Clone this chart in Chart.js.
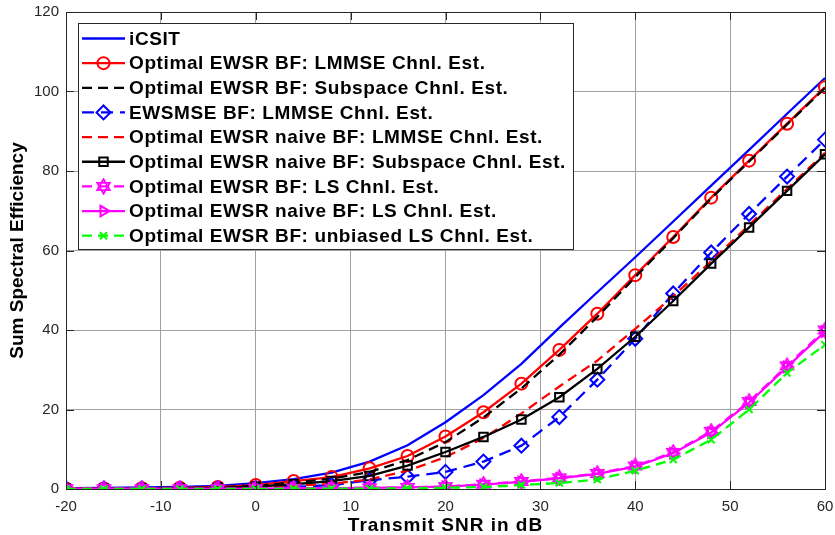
<!DOCTYPE html>
<html>
<head>
<meta charset="utf-8">
<script src="https://cdn.jsdelivr.net/npm/chart.js@4.4.0/dist/chart.umd.min.js"></script>
<style>
  html, body { margin: 0; padding: 0; background: #fff; }
</style>
</head>
<body>
<canvas id="chart" width="835" height="535"></canvas>
<script>
// x axis: transmit SNR (dB)
const snrDb = [-20, -16, -12, -8, -4, 0, 4, 8, 12, 16, 20, 24, 28, 32, 36, 40, 44, 48, 52, 56, 60];

// sum spectral efficiency per curve
const iCsit         = [0.2, 0.3, 0.4, 0.5, 0.8, 1.5, 2.5, 4.1, 6.9, 11.0, 16.8, 23.6, 31.5, 40.6, 49.5, 58.3, 67.3, 76.3, 85.3, 94.4, 103.4];
const optLmmse      = [0.1, 0.1, 0.2, 0.3, 0.5, 1.0, 2.0, 3.0, 5.2, 8.3, 13.2, 19.3, 26.5, 35.0, 44.1, 53.8, 63.4, 73.3, 82.6, 91.9, 101.1];
const optSubspace   = [0.1, 0.1, 0.2, 0.3, 0.4, 0.8, 1.6, 2.6, 4.3, 7.3, 11.8, 18.0, 25.3, 33.8, 43.3, 53.3, 63.1, 73.1, 82.4, 91.7, 100.9];
const ewsmseLmmse   = [0.1, 0.1, 0.1, 0.1, 0.2, 0.3, 0.5, 1.0, 2.2, 3.1, 4.3, 6.9, 10.9, 18.1, 27.5, 37.8, 49.2, 59.5, 69.2, 78.6, 87.9];
const naiveLmmse    = [0.1, 0.1, 0.1, 0.2, 0.3, 0.5, 0.8, 1.3, 2.4, 4.6, 8.0, 12.8, 19.0, 25.8, 32.3, 40.3, 48.5, 57.3, 66.4, 75.5, 84.6];
const naiveSubspace = [0.1, 0.1, 0.1, 0.2, 0.3, 0.6, 1.2, 2.0, 3.3, 5.9, 9.3, 13.1, 17.5, 23.1, 30.2, 38.3, 47.3, 56.7, 65.8, 75.0, 84.2];
const optLs         = [0.1, 0.1, 0.1, 0.1, 0.1, 0.1, 0.2, 0.2, 0.3, 0.4, 0.6, 1.2, 1.9, 2.8, 3.9, 5.8, 9.2, 14.5, 22.0, 31.0, 40.0];
const naiveLs       = [0.1, 0.1, 0.1, 0.1, 0.1, 0.1, 0.2, 0.2, 0.3, 0.4, 0.6, 1.1, 1.8, 2.7, 3.8, 5.6, 9.0, 14.2, 21.7, 30.7, 39.6];
const unbiasedLs    = [0.0, 0.0, 0.0, 0.0, 0.0, 0.0, 0.1, 0.1, 0.1, 0.2, 0.3, 0.5, 1.0, 1.5, 2.4, 4.6, 7.4, 12.4, 20.0, 29.2, 36.3];

const seriesLabels = [
  "iCSIT",
  "Optimal EWSR BF: LMMSE Chnl. Est.",
  "Optimal EWSR BF: Subspace Chnl. Est.",
  "EWSMSE BF: LMMSE Chnl. Est.",
  "Optimal EWSR naive BF: LMMSE Chnl. Est.",
  "Optimal EWSR naive BF: Subspace Chnl. Est.",
  "Optimal EWSR BF: LS Chnl. Est.",
  "Optimal EWSR naive BF: LS Chnl. Est.",
  "Optimal EWSR BF: unbiased LS Chnl. Est."
];
const xTitle = "Transmit SNR in dB";
const yTitle = "Sum Spectral Efficiency";

const FONT = "'Liberation Sans', Arial, Helvetica, sans-serif";
const AXIS_COLOR = "#262626";

// six pointed star marker (matlab 'hexagram')
function makeHexagram(color, size) {
  const c = document.createElement("canvas");
  c.width = size; c.height = size;
  const g = c.getContext("2d");
  const cx = size / 2, cy = size / 2, r = size / 2 - 1.2;
  g.strokeStyle = color;
  g.lineWidth = 1.8;
  for (let k = 0; k < 2; k++) {
    g.beginPath();
    for (let i = 0; i < 3; i++) {
      const a = -Math.PI / 2 + k * Math.PI + i * 2 * Math.PI / 3;
      const px = cx + r * Math.cos(a), py = cy + r * Math.sin(a);
      if (i) g.lineTo(px, py); else g.moveTo(px, py);
    }
    g.closePath();
    g.stroke();
  }
  return c;
}
const hexagram = makeHexagram("#ff00ff", 17);

const toPoints = (vals) => snrDb.map((x, i) => ({ x: x, y: vals[i] }));

const makeSet = (idx, vals, color, dash, style, radius, rotation) => ({
  label: seriesLabels[idx],
  data: toPoints(vals),
  borderColor: color,
  backgroundColor: "rgba(0,0,0,0)",
  borderWidth: 2.3,
  borderDash: dash,
  pointStyle: style,
  pointRadius: radius,
  pointRotation: rotation || 0,
  pointBorderColor: color,
  pointBackgroundColor: "rgba(0,0,0,0)",
  pointBorderWidth: 2,
  tension: 0,
  order: 20 - idx
});

const datasets = [
  makeSet(0, iCsit, "#0000ff", [], false, 0),
  makeSet(1, optLmmse, "#ff0000", [], "circle", 6),
  makeSet(2, optSubspace, "#000000", [10, 6], false, 0),
  makeSet(3, ewsmseLmmse, "#0000ff", [12, 7], "rectRot", 7),
  makeSet(4, naiveLmmse, "#ff0000", [10, 6], false, 0),
  makeSet(5, naiveSubspace, "#000000", [], "rect", 6),
  makeSet(6, optLs, "#ff00ff", [10, 6], hexagram, 8),
  makeSet(7, naiveLs, "#ff00ff", [], "triangle", 6, 90),
  makeSet(8, unbiasedLs, "#00ff00", [10, 6], "crossRot", 5)
];

// full box + inward ticks + axis titles, like matlab axes
const axesBox = {
  id: "axesBox",
  afterDatasetsDraw(chart) {
    const { ctx, chartArea: a, scales } = chart;
    ctx.save();
    ctx.strokeStyle = AXIS_COLOR;
    ctx.lineWidth = 1;
    ctx.beginPath();
    scales.x.ticks.forEach(t => {
      const px = Math.round(scales.x.getPixelForValue(t.value)) + 0.5;
      ctx.moveTo(px, a.bottom); ctx.lineTo(px, a.bottom - 8);
      ctx.moveTo(px, a.top); ctx.lineTo(px, a.top + 8);
    });
    scales.y.ticks.forEach(t => {
      const py = Math.round(scales.y.getPixelForValue(t.value)) + 0.5;
      ctx.moveTo(a.left, py); ctx.lineTo(a.left + 8, py);
      ctx.moveTo(a.right, py); ctx.lineTo(a.right - 8, py);
    });
    ctx.stroke();
    ctx.strokeRect(Math.round(a.left) + 0.5, Math.round(a.top) + 0.5,
      Math.round(a.right - a.left), Math.round(a.bottom - a.top));

    ctx.fillStyle = "#000000";
    ctx.font = "bold 19px " + FONT;
    ctx.textAlign = "center";
    ctx.textBaseline = "middle";
    ctx.letterSpacing = "1px";
    ctx.fillText(xTitle, (a.left + a.right) / 2, 526);
    ctx.letterSpacing = "0px";
    ctx.translate(18, (a.top + a.bottom) / 2);
    ctx.rotate(-Math.PI / 2);
    ctx.fillText(yTitle, 0, 0);
    ctx.restore();
  }
};

// legend box drawn inside the plot, top left
const boxLegend = {
  id: "boxLegend",
  afterDraw(chart) {
    const ctx = chart.ctx;
    const bx = 78, by = 23, bw = 495, bh = 226;
    const rowY = 38.5, rowH = 24.65;
    ctx.save();
    ctx.fillStyle = "#ffffff";
    ctx.fillRect(bx, by, bw, bh);
    ctx.strokeStyle = AXIS_COLOR;
    ctx.lineWidth = 1;
    ctx.strokeRect(bx + 0.5, by + 0.5, bw, bh);
    chart.data.datasets.forEach((ds, i) => {
      const y = rowY + i * rowH;
      ctx.save();
      ctx.strokeStyle = ds.borderColor;
      ctx.lineWidth = 2.3;
      ctx.setLineDash(ds.borderDash);
      ctx.beginPath();
      ctx.moveTo(82, y);
      ctx.lineTo(125, y);
      ctx.stroke();
      ctx.setLineDash([]);
      if (ds.pointRadius > 0) {
        ctx.fillStyle = "rgba(0,0,0,0)";
        ctx.lineWidth = ds.pointBorderWidth;
        Chart.helpers.drawPoint(ctx, {
          pointStyle: ds.pointStyle,
          rotation: ds.pointRotation,
          radius: ds.pointRadius,
          borderWidth: ds.pointBorderWidth
        }, 103.5, y);
      }
      ctx.restore();
      ctx.fillStyle = "#000000";
      ctx.font = "bold 19px " + FONT;
      ctx.letterSpacing = "0.6px";
      ctx.textBaseline = "middle";
      ctx.fillText(ds.label, 129, y + 1);
    });
    ctx.restore();
  }
};

new Chart(document.getElementById("chart"), {
  type: "line",
  data: { datasets: datasets },
  options: {
    responsive: false,
    animation: false,
    layout: { padding: { left: 0, right: 9, top: 12, bottom: 0 } },
    plugins: {
      legend: { display: false },
      tooltip: { enabled: false }
    },
    scales: {
      x: {
        type: "linear",
        min: -20,
        max: 60,
        afterFit: (scale) => {
          scale.height = 46;
          scale.paddingLeft = 0;
          scale.paddingRight = 0;
        },
        ticks: { stepSize: 10, color: AXIS_COLOR, padding: 9, font: { family: FONT, size: 15 } },
        grid: { color: "#a0a0a0", drawTicks: false },
        border: { color: AXIS_COLOR }
      },
      y: {
        min: 0,
        max: 120,
        afterFit: (scale) => {
          scale.width = 66;
          scale.paddingTop = 0;
          scale.paddingBottom = 0;
        },
        ticks: { stepSize: 20, color: AXIS_COLOR, padding: 7, font: { family: FONT, size: 15 } },
        grid: { color: "#a0a0a0", drawTicks: false },
        border: { color: AXIS_COLOR }
      }
    }
  },
  plugins: [axesBox, boxLegend]
});
</script>
</body>
</html>
